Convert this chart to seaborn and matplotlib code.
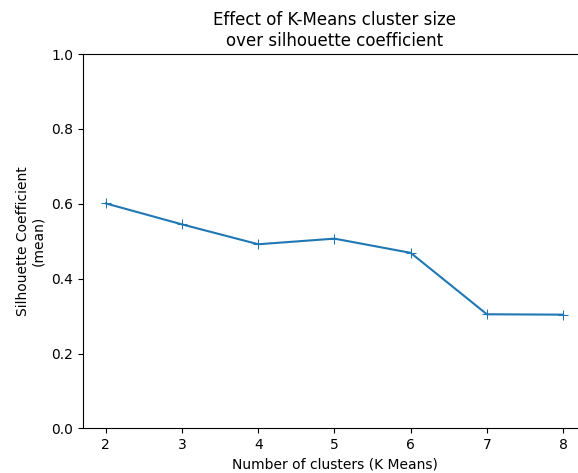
import matplotlib
matplotlib.use("Agg")
import matplotlib.pyplot as plt
import seaborn as sns
import pandas as pd

clusters = [2, 3, 4, 5, 6, 7, 8]
silhouette = [0.601, 0.545, 0.492, 0.507, 0.469, 0.305, 0.304]

df = pd.DataFrame({"k": clusters, "s": silhouette})

fig = plt.figure(figsize=(5.78, 4.73), dpi=100)
ax = fig.add_axes([0.1436, 0.0941, 0.8702, 0.7917])
sns.lineplot(data=df, x="k", y="s", marker="+", markersize=7, color="#1f77b4",
             markeredgecolor="#1f77b4", ax=ax)
ax.set_ylim(0, 1.0)
ax.set_yticks([0.0, 0.2, 0.4, 0.6, 0.8, 1.0])
ax.set_xticks(clusters)
ax.set_xlabel("Number of clusters (K Means)")
ax.set_ylabel("Silhouette Coefficient\n(mean)")
ax.set_title("Effect of K-Means cluster size\nover silhouette coefficient", fontsize=12)
fig.savefig("out.png", dpi=100)
